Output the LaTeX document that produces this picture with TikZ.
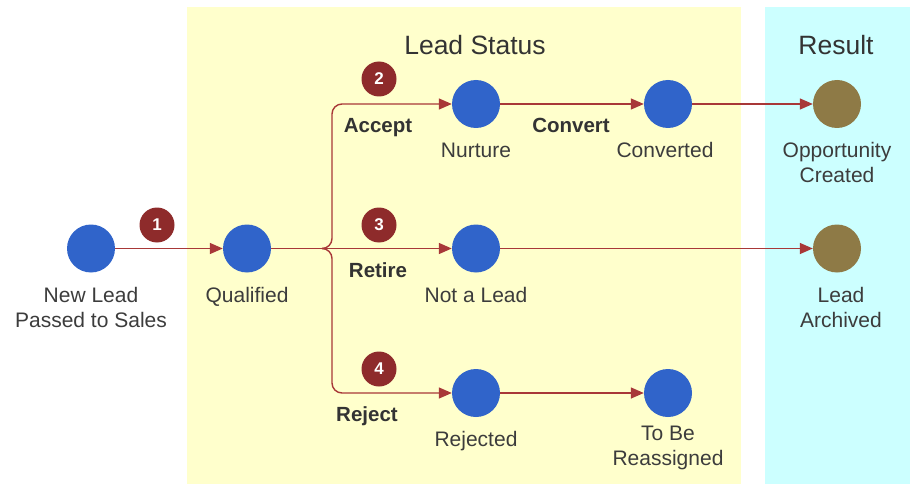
\documentclass[tikz,border=0pt]{standalone}
\usepackage{fontspec}
\setmainfont{Liberation Sans}
\usetikzlibrary{arrows.meta}
\definecolor{zoneY}{HTML}{FFFFCC}
\definecolor{zoneC}{HTML}{CCFFFF}
\definecolor{dotblue}{HTML}{3064CA}
\definecolor{dotbrown}{HTML}{8E7A46}
\definecolor{badgered}{HTML}{8E2B2B}
\definecolor{flowred}{HTML}{A83838}
\definecolor{txtgray}{HTML}{3C3C3C}
\newcommand{\lbstrut}{\rule{0pt}{16pt}}
\tikzset{
  state/.style={circle, fill=dotblue, minimum size=48pt, inner sep=0pt},
  result/.style={circle, fill=dotbrown, minimum size=48pt, inner sep=0pt},
  badge/.style={circle, fill=badgered, minimum size=35pt, inner sep=0pt, text=white, font=\fontsize{17}{20}\selectfont\bfseries},
  caption/.style={anchor=north, inner sep=0pt, align=center, text=txtgray, font=\fontsize{21}{25}\selectfont},
  action/.style={anchor=base, inner sep=0pt, text=txtgray!85!black, font=\fontsize{20.5}{24}\selectfont\bfseries},
  zonetitle/.style={inner sep=0pt, text=black!80, font=\fontsize{26.5}{30}\selectfont},
  flow/.style={draw=flowred, line width=1.4pt, -{Triangle[length=13pt,width=11pt]}},
}
\begin{document}
\begin{tikzpicture}[x=1pt,y=-1pt]
\useasboundingbox (0,0) rectangle (910,484);
% zones
\fill[zoneY] (187,7.5) rectangle (741,483.5);
\fill[zoneC] (765,7.5) rectangle (910,483.5);
\node[zonetitle] (tstatus) at (475,45) {Lead Status};
\node[zonetitle] (tresult) at (836,45) {Result};
% states
\node[state] (newlead) at (91,248.5) {};
\node[state] (qualified) at (247,248.5) {};
\node[state] (nurture) at (476,104) {};
\node[state] (converted) at (668,104) {};
\node[result] (opportunity) at (837,104) {};
\node[state] (notlead) at (476,248.5) {};
\node[result] (archived) at (837,248.5) {};
\node[state] (rejected) at (476,393) {};
\node[state] (reassigned) at (668,393) {};
% captions
\node[caption] (cnewlead) at (91,286) {\lbstrut New Lead\\Passed to Sales};
\node[caption] (cqualified) at (247,286) {\lbstrut Qualified};
\node[caption] (cnurture) at (476,141) {\lbstrut Nurture};
\node[caption] (cconverted) at (665,141) {\lbstrut Converted};
\node[caption] (copportunity) at (837,141) {\lbstrut Opportunity\\Created};
\node[caption] (cnotlead) at (476,286) {\lbstrut Not a Lead};
\node[caption] (carchived) at (841,286) {\lbstrut Lead\\Archived};
\node[caption] (crejected) at (476,430) {\lbstrut Rejected};
\node[caption] (creassigned) at (668,424) {\lbstrut To Be\\Reassigned};
% junction
\coordinate (j) at (322,248.5);
\coordinate (bxtop) at (332,104);
\coordinate (bxbot) at (332,393);
% flows
\draw[flow] (newlead) -- (qualified);
\draw[flow] (qualified) -- (notlead);
\draw[flow] (notlead) -- (archived);
\draw[flow, rounded corners=10pt] (j) -| (bxtop) -- (nurture.west);
\draw[flow, rounded corners=10pt] (j) -| (bxbot) -- (rejected.west);
\draw[flow] (nurture) -- (converted);
\draw[flow] (converted) -- (opportunity);
\draw[flow] (rejected) -- (reassigned);
% badges
\node[badge] (b1) at (157,225) {1};
\node[badge] (b2) at (379,79) {2};
\node[badge] (b3) at (379,225) {3};
\node[badge] (b4) at (379,369) {4};
% action labels
\node[action] (laccept) at (378,133) {Accept};
\node[action] (lconvert) at (571,133) {Convert};
\node[action] (lretire) at (378,277) {Retire};
\node[action] (lreject) at (367,421) {Reject};
\end{tikzpicture}
\end{document}
